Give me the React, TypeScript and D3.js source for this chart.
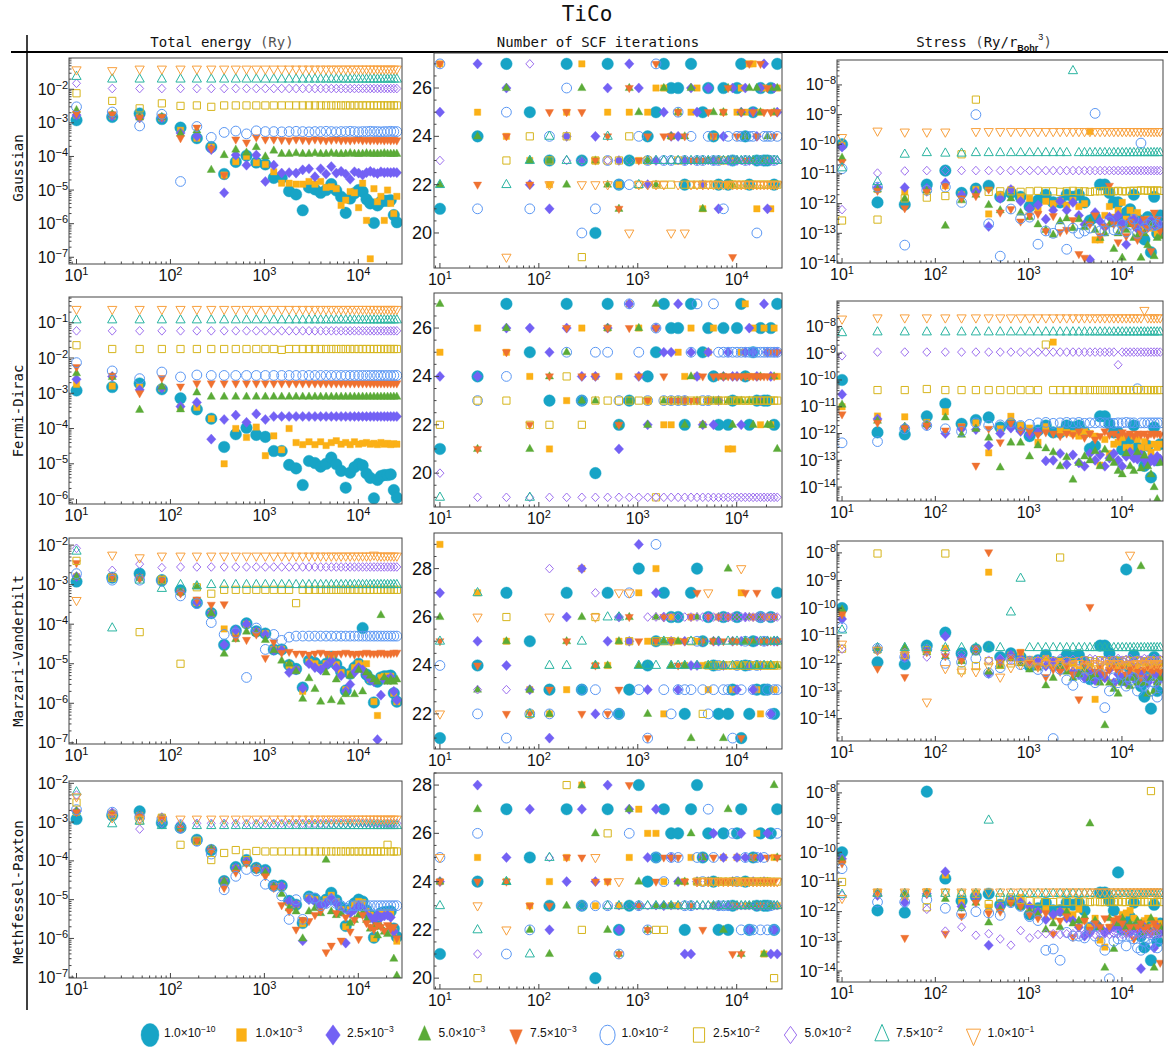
import React from "react";
import * as d3 from "d3";

type V = number | null;

// number of k-points (horizontal axis of every panel)
const kPoints = [
  10, 24, 47, 81, 128, 191, 272, 373, 496, 645,
  820, 1024, 1259, 1528, 1833, 2175, 2558, 2984, 3454, 3972,
  4538, 5156, 5828, 6556, 7342, 8188, 9097, 10071, 11112, 12222,
  13404, 14660, 15992, 17403, 18894, 20467, 22126, 23872, 25708,
];

// smearing widths (legend)
const smearMantissa = ["1.0", "1.0", "2.5", "5.0", "7.5", "1.0", "2.5", "5.0", "7.5", "1.0"];
const smearExponent = ["−10", "−3", "−3", "−3", "−3", "−2", "−2", "−2", "−2", "−1"];

const smearingNames = ["Gaussian", "Fermi-Dirac", "Marzari-Vanderbilt", "Methfessel-Paxton"];

// ---------------- total energy (Ry) ----------------
const energyGaussian: V[][] = [
  [1.2e-3, 1.5e-3, 1.9e-3, 1.3e-3, 7.2e-4, 3.5e-4, 1.9e-4, 3e-5, 6.9e-5, 1.05e-4,
    6.6e-5, 5.8e-5, 2.3e-5, 2.3e-5, 9.3e-6, 7.4e-6, 2.5e-6, 1.2e-5, 1.05e-5, 8.3e-6,
    1e-5, 1.5e-5, 9.7e-6, 6.3e-6, 2.1e-6, 5.6e-6, 8e-6, 1e-5, 9e-6, 5.3e-6,
    4e-6, 1.05e-6, 3.5e-6, 4.5e-6, 4.8e-6, 4.8e-6, 5e-6, 1.8e-6, 1.1e-6],
  [1.7e-3, 1.6e-3, 1.5e-3, 1.4e-3, 6e-4, 3.5e-4, 1.9e-4, 2.8e-5, 7e-5, 1e-4,
    6.5e-5, 5.8e-5, 3.5e-5, 1.6e-5, 1.6e-5, 1.5e-5, 1.5e-5, 1.8e-5, 1.5e-5, 1.8e-5,
    1.2e-5, 1.25e-5, 1.1e-5, 3.5e-6, 5e-6, 9e-6, 8.3e-6, 3e-6, 1.6e-5, 1.25e-6,
    9e-8, 1.1e-5, 4.5e-6, 6.5e-6, 1.25e-6, 1e-5, 4e-6, 2e-6, 6.5e-6],
  [1.7e-3, 1.6e-3, 1.4e-3, 1.4e-3, 5e-4, 4e-4, 1.6e-4, 8.3e-6, 1.1e-4, 5.5e-5,
    1.1e-4, 1.8e-5, 5.5e-5, 3.2e-5, 3.3e-5, 3.2e-5, 4e-5, 4.3e-5, 2.5e-5, 4.3e-5,
    3e-5, 5e-5, 3.2e-5, 3.6e-5, 3e-5, 2.1e-5, 3.5e-5, 3.2e-5, 2.8e-5, 3.3e-5,
    3.6e-5, 3.3e-5, 3.1e-5, 3.5e-5, 3.3e-5, 3.4e-5, 3.3e-5, 3.4e-5, 3.3e-5],
  [2.4e-3, 1.8e-3, 1.45e-3, 1.5e-3, 4.8e-4, 6e-4, 4e-5, 1.1e-4, 1.6e-4, 1.3e-4,
    1.9e-4, 1e-4, 1.5e-4, 1.2e-4, 1.2e-4, 1.25e-4, 1.2e-4, 1.2e-4, 1.25e-4, 1.2e-4,
    1.2e-4, 1.25e-4, 1.2e-4, 1.2e-4, 1.2e-4, 1.25e-4, 1.2e-4, 1.2e-4, 1.2e-4, 1.25e-4,
    1.2e-4, 1.2e-4, 1.2e-4, 1.2e-4, 1.25e-4, 1.2e-4, 1.2e-4, 1.2e-4, 1.2e-4],
  [1.9e-3, 1.8e-3, 1.4e-3, 1.5e-3, 3.5e-4, 7.2e-4, 1.7e-4, 2.8e-5, 3.2e-4, 2.6e-4,
    3.7e-4, 3.2e-4, 3.2e-4, 3.1e-4, 3e-4, 3.2e-4, 3.1e-4, 3e-4, 3.2e-4, 3.1e-4,
    3e-4, 3.1e-4, 3.2e-4, 3e-4, 3.1e-4, 3e-4, 3.1e-4, 3.2e-4, 3e-4, 3.1e-4,
    3e-4, 3.1e-4, 3e-4, 3.1e-4, 3e-4, 3.1e-4, 3e-4, 3.1e-4, 3e-4],
  [3e-3, 2.1e-3, 8.1e-4, 1.8e-3, 1.8e-5, 7.8e-4, 3.7e-4, 5.2e-4, 5.7e-4, 4.7e-4,
    5.8e-4, 5.5e-4, 5.5e-4, 5.4e-4, 5.5e-4, 5.6e-4, 5.5e-4, 5.4e-4, 5.5e-4, 5.5e-4,
    5.6e-4, 5.5e-4, 5.4e-4, 5.5e-4, 5.5e-4, 5.6e-4, 5.5e-4, 5.4e-4, 5.5e-4, 5.5e-4,
    5.6e-4, 5.5e-4, 5.5e-4, 5.4e-4, 5.5e-4, 5.5e-4, 5.6e-4, 5.5e-4, 5.5e-4],
  [7.6e-3, 4.5e-3, 2.7e-3, 3.8e-3, 3.2e-3, 3.3e-3, 3e-3, 3.3e-3, 3.3e-3, 3.3e-3,
    3.3e-3, 3.3e-3, 3.3e-3, 3.3e-3, 3.3e-3, 3.3e-3, 3.3e-3, 3.3e-3, 3.3e-3, 3.3e-3,
    3.3e-3, 3.3e-3, 3.3e-3, 3.3e-3, 3.3e-3, 3.3e-3, 3.3e-3, 3.3e-3, 3.3e-3, 3.3e-3,
    3.3e-3, 3.3e-3, 3.3e-3, 3.3e-3, 3.3e-3, 3.3e-3, 3.3e-3, 3.3e-3, 3.3e-3],
  [1.5e-2, 1.05e-2, 1.05e-2, 1.05e-2, 1.05e-2, 1.05e-2, 1.05e-2, 1.05e-2, 1.05e-2, 1.05e-2,
    1.05e-2, 1.05e-2, 1.05e-2, 1.05e-2, 1.05e-2, 1.05e-2, 1.05e-2, 1.05e-2, 1.05e-2, 1.05e-2,
    1.05e-2, 1.05e-2, 1.05e-2, 1.05e-2, 1.05e-2, 1.05e-2, 1.05e-2, 1.05e-2, 1.05e-2, 1.05e-2,
    1.05e-2, 1.05e-2, 1.05e-2, 1.05e-2, 1.05e-2, 1.05e-2, 1.05e-2, 1.05e-2, 1.05e-2],
  [2.4e-2, 2e-2, 2e-2, 2e-2, 2e-2, 2e-2, 2e-2, 2e-2, 2e-2, 2e-2,
    2e-2, 2e-2, 2e-2, 2e-2, 2e-2, 2e-2, 2e-2, 2e-2, 2e-2, 2e-2,
    2e-2, 2e-2, 2e-2, 2e-2, 2e-2, 2e-2, 2e-2, 2e-2, 2e-2, 2e-2,
    2e-2, 2e-2, 2e-2, 2e-2, 2e-2, 2e-2, 2e-2, 2e-2, 2e-2],
  [3.8e-2, 3.6e-2, 4e-2, 4e-2, 4e-2, 4e-2, 4e-2, 4e-2, 4e-2, 4e-2,
    4e-2, 4e-2, 4e-2, 4e-2, 4e-2, 4e-2, 4e-2, 4e-2, 4e-2, 4e-2,
    4e-2, 4e-2, 4e-2, 4e-2, 4e-2, 4e-2, 4e-2, 4e-2, 4e-2, 4e-2,
    4e-2, 4e-2, 4e-2, 4e-2, 4e-2, 4e-2, 4e-2, 4e-2, 4e-2],
];

const energyFermi: V[][] = [
  [1.2e-3, 1.5e-3, 1.9e-3, 1.3e-3, 7.2e-4, 3.5e-4, 1.9e-4, 3e-5, 6.9e-5, 1.05e-4,
    6.6e-5, 5.8e-5, 2.3e-5, 2.3e-5, 9.3e-6, 7.4e-6, 2.5e-6, 1.2e-5, 1.05e-5, 8.3e-6,
    1e-5, 1.5e-5, 9.7e-6, 6.3e-6, 2.1e-6, 5.6e-6, 8e-6, 1e-5, 9e-6, 5.3e-6,
    4e-6, 1.05e-6, 3.5e-6, 4.5e-6, 4.8e-6, 4.8e-6, 5e-6, 1.8e-6, 1.1e-6],
  [1.8e-3, 1.6e-3, 1.5e-3, 1.4e-3, 4e-4, 4e-4, 1.9e-4, 1e-5, 1e-4, 5.6e-5,
    1.1e-4, 1.7e-5, 6.2e-5, 2.5e-5, 1e-4, 4e-5, 3.5e-5, 4.2e-5, 3.5e-5, 4.2e-5,
    3.3e-5, 4e-5, 4.5e-5, 3.6e-5, 4e-5, 3.5e-5, 4.2e-5, 3.6e-5, 3.8e-5, 4e-5,
    3.6e-5, 3.8e-5, 3.5e-5, 4e-5, 3.6e-5, 3.8e-5, 3.5e-5, 3.7e-5, 3.6e-5],
  [2.5e-3, 3e-3, 1.25e-3, 1.4e-3, 4.2e-4, 5.5e-4, 5e-5, 1.8e-4, 2.4e-4, 1.5e-4,
    2.6e-4, 1.8e-4, 2.2e-4, 2.2e-4, 2.2e-4, 2.2e-4, 2.2e-4, 2.2e-4, 2.2e-4, 2.2e-4,
    2.2e-4, 2.2e-4, 2.2e-4, 2.2e-4, 2.2e-4, 2.2e-4, 2.2e-4, 2.2e-4, 2.2e-4, 2.2e-4,
    2.2e-4, 2.2e-4, 2.2e-4, 2.2e-4, 2.2e-4, 2.2e-4, 2.2e-4, 2.2e-4, 2.2e-4],
  [3.7e-3, 2.9e-3, 3.4e-4, 1.55e-3, 3.5e-4, 1.05e-3, 8e-4, 8e-4, 8e-4, 8e-4,
    8e-4, 8e-4, 8e-4, 8e-4, 8e-4, 8e-4, 8e-4, 8e-4, 8e-4, 8e-4,
    8e-4, 8e-4, 8e-4, 8e-4, 8e-4, 8e-4, 8e-4, 8e-4, 8e-4, 8e-4,
    8e-4, 8e-4, 8e-4, 8e-4, 8e-4, 8e-4, 8e-4, 8e-4, 8e-4],
  [5.5e-3, 3.1e-3, 1e-3, 2.7e-3, 1.55e-3, 1.9e-3, 1.9e-3, 1.9e-3, 1.9e-3, 1.9e-3,
    1.9e-3, 1.9e-3, 1.9e-3, 1.9e-3, 1.9e-3, 1.9e-3, 1.9e-3, 1.9e-3, 1.9e-3, 1.9e-3,
    1.9e-3, 1.9e-3, 1.9e-3, 1.9e-3, 1.9e-3, 1.9e-3, 1.9e-3, 1.9e-3, 1.9e-3, 1.9e-3,
    1.9e-3, 1.9e-3, 1.9e-3, 1.9e-3, 1.9e-3, 1.9e-3, 1.9e-3, 1.9e-3, 1.9e-3],
  [7.4e-3, 4.3e-3, 2.6e-3, 4e-3, 2.9e-3, 3.3e-3, 3.2e-3, 3.2e-3, 3.2e-3, 3.2e-3,
    3.2e-3, 3.2e-3, 3.2e-3, 3.2e-3, 3.2e-3, 3.2e-3, 3.2e-3, 3.2e-3, 3.2e-3, 3.2e-3,
    3.2e-3, 3.2e-3, 3.2e-3, 3.2e-3, 3.2e-3, 3.2e-3, 3.2e-3, 3.2e-3, 3.2e-3, 3.2e-3,
    3.2e-3, 3.2e-3, 3.2e-3, 3.2e-3, 3.2e-3, 3.2e-3, 3.2e-3, 3.2e-3, 3.2e-3],
  [2.3e-2, 1.8e-2, 1.8e-2, 1.8e-2, 1.8e-2, 1.8e-2, 1.8e-2, 1.8e-2, 1.8e-2, 1.8e-2,
    1.8e-2, 1.8e-2, 1.8e-2, 1.7e-2, 1.8e-2, 1.8e-2, 1.8e-2, 1.8e-2, 1.8e-2, 1.8e-2,
    1.8e-2, 1.8e-2, 1.8e-2, 1.8e-2, 1.8e-2, 1.8e-2, 1.8e-2, 1.8e-2, 1.8e-2, 1.8e-2,
    1.8e-2, 1.8e-2, 1.8e-2, 1.8e-2, 1.8e-2, 1.8e-2, 1.8e-2, 1.8e-2, 1.8e-2],
  [5.9e-2, 5.9e-2, 5.9e-2, 5.9e-2, 5.9e-2, 5.9e-2, 5.9e-2, 5.9e-2, 5.9e-2, 5.9e-2,
    5.9e-2, 5.9e-2, 5.9e-2, 5.9e-2, 5.9e-2, 5.9e-2, 5.9e-2, 5.9e-2, 5.9e-2, 5.9e-2,
    5.9e-2, 5.9e-2, 5.9e-2, 5.9e-2, 5.9e-2, 5.9e-2, 5.9e-2, 5.9e-2, 5.9e-2, 5.9e-2,
    5.9e-2, 5.9e-2, 5.9e-2, 5.9e-2, 5.9e-2, 5.9e-2, 5.9e-2, 5.9e-2, 5.9e-2],
  [1.2e-1, 1.2e-1, 1.2e-1, 1.2e-1, 1.2e-1, 1.2e-1, 1.2e-1, 1.2e-1, 1.2e-1, 1.2e-1,
    1.2e-1, 1.2e-1, 1.2e-1, 1.2e-1, 1.2e-1, 1.2e-1, 1.2e-1, 1.2e-1, 1.2e-1, 1.2e-1,
    1.2e-1, 1.2e-1, 1.2e-1, 1.2e-1, 1.2e-1, 1.2e-1, 1.2e-1, 1.2e-1, 1.2e-1, 1.2e-1,
    1.2e-1, 1.2e-1, 1.2e-1, 1.2e-1, 1.2e-1, 1.2e-1, 1.2e-1, 1.2e-1, 1.2e-1],
  [2.4e-1, 2.4e-1, 2.4e-1, 2.4e-1, 2.4e-1, 2.4e-1, 2.4e-1, 2.4e-1, 2.4e-1, 2.4e-1,
    2.4e-1, 2.4e-1, 2.4e-1, 2.4e-1, 2.4e-1, 2.4e-1, 2.4e-1, 2.4e-1, 2.4e-1, 2.4e-1,
    2.4e-1, 2.4e-1, 2.4e-1, 2.4e-1, 2.4e-1, 2.4e-1, 2.4e-1, 2.4e-1, 2.4e-1, 2.4e-1,
    2.4e-1, 2.4e-1, 2.4e-1, 2.4e-1, 2.4e-1, 2.4e-1, 2.4e-1, 2.4e-1, 2.4e-1],
];

const energyMarzari: V[][] = [
  [1.2e-3, 1.5e-3, 1.9e-3, 1.3e-3, 7.2e-4, 3.5e-4, 1.9e-4, 3e-5, 6.9e-5, 1.05e-4,
    6.6e-5, 5.8e-5, 2.3e-5, 2.3e-5, 9.3e-6, 7.4e-6, 2.5e-6, 1.2e-5, 1.05e-5, 8.3e-6,
    1e-5, 1.5e-5, 9.7e-6, 6.3e-6, 2.1e-6, 5.6e-6, 8e-6, 1e-5, 8e-5, 5.3e-6,
    4e-6, 1.05e-6, 3.5e-6, 4.5e-6, 4.8e-6, 4.8e-6, 5e-6, 1.8e-6, 1.1e-6],
  [1.6e-3, 1.5e-3, 1.5e-3, 1.4e-3, 6.5e-4, 3.5e-4, 1.9e-4, 7.6e-5, 6.5e-5, 1e-4,
    6.5e-5, 5.8e-5, 2.3e-5, 2.3e-5, 9e-6, 7e-6, 2e-6, 1.1e-5, 1e-5, 8e-6,
    1e-5, 1.4e-5, 9.5e-6, 6e-6, 2.2e-6, 5.5e-6, 8e-6, 1e-5, 9e-6, 1e-5,
    4e-6, 1.1e-6, 4.9e-7, 4.5e-6, 4.8e-6, 4.8e-6, 4.8e-6, 1.8e-6, 1.1e-6],
  [1.6e-3, 1.5e-3, 1.5e-3, 1.3e-3, 6.5e-4, 3.6e-4, 1.9e-4, 3e-5, 7e-5, 1e-4,
    6.5e-5, 5.5e-5, 2.2e-5, 2.2e-5, 6e-6, 7e-6, 2.4e-6, 1e-5, 8e-6, 7e-6,
    9e-6, 1.2e-5, 8e-6, 5e-6, 2e-6, 3e-6, 6e-6, 8e-6, 7e-6, 5e-6,
    4e-6, 3.5e-6, 1.2e-7, 1.6e-6, 4e-6, 4e-6, 4.5e-6, 2e-6, 1.2e-6],
  [1.6e-3, 1.5e-3, 1.5e-3, 1.3e-3, 6.5e-4, 9e-4, 1.9e-4, 1.8e-5, 4.2e-5, 6.5e-5,
    6e-5, 4e-5, 2.2e-5, 1.2e-5, 1e-5, 6.5e-6, 1.3e-6, 4.3e-6, 2.3e-6, 1.1e-6,
    6e-6, 1.2e-6, 4e-6, 1.1e-6, 1.7e-6, 5e-6, 1.7e-6, 7e-6, 2e-6, 6e-6,
    5e-6, 4e-6, 3.5e-6, 1.7e-4, 4.5e-6, 3.5e-6, 4e-6, 3.5e-6, 4e-6],
  [3.5e-3, 1.6e-3, 1.4e-3, 1.3e-3, 6e-4, 4.2e-4, 3.1e-4, 3.2e-4, 4.5e-5, 4e-5,
    5.5e-5, 1.4e-5, 3.5e-5, 1.9e-5, 2e-5, 1.8e-5, 1.8e-5, 1.7e-5, 1.8e-5, 1.9e-5,
    1.8e-5, 1.7e-5, 1.8e-5, 1.8e-5, 1.9e-5, 1.8e-5, 1.7e-5, 1.8e-5, 1.8e-5, 1.9e-5,
    1.8e-5, 1.8e-5, 1.8e-5, 1.9e-5, 1.8e-5, 1.8e-5, 1.8e-5, 1.9e-5, 1.9e-5],
  [1.9e-3, 1.3e-3, 1.3e-3, 1.2e-3, 5.2e-4, 3.3e-4, 1.1e-4, 5.5e-5, 6e-5, 4.5e-6,
    8e-5, 2.3e-5, 5.5e-5, 3.9e-5, 4.7e-5, 5e-5, 5e-5, 5e-5, 5e-5, 5e-5,
    5e-5, 5e-5, 5e-5, 5e-5, 5e-5, 5e-5, 5e-5, 5e-5, 5e-5, 5e-5,
    5e-5, 5e-5, 5e-5, 5e-5, 5e-5, 5e-5, 5e-5, 5e-5, 5e-5],
  [4e-3, 1.5e-3, 6.3e-5, 1.3e-3, 1e-5, 8.6e-4, 5.9e-4, 7.4e-4, 7.4e-4, 7.4e-4,
    7.4e-4, 7.4e-4, 7.4e-4, 7.4e-4, 7.4e-4, 3.4e-4, 7.4e-4, 7.4e-4, 7.4e-4, 7.4e-4,
    7.4e-4, 7.4e-4, 7.4e-4, 7.4e-4, 7.4e-4, 7.4e-4, 7.4e-4, 7.4e-4, 7.4e-4, 7.4e-4,
    7.4e-4, 7.4e-4, 7.4e-4, 7.4e-4, 7.4e-4, 7.4e-4, 7.4e-4, 7.4e-4, 7.4e-4],
  [8.3e-3, 2.3e-3, 3.3e-3, 2.7e-3, 2.8e-3, 2.8e-3, 2.8e-3, 2.8e-3, 2.8e-3, 2.8e-3,
    2.8e-3, 2.8e-3, 2.8e-3, 2.8e-3, 2.8e-3, 2.8e-3, 2.8e-3, 2.8e-3, 2.8e-3, 2.8e-3,
    2.8e-3, 2.8e-3, 2.8e-3, 2.8e-3, 2.8e-3, 2.8e-3, 2.8e-3, 2.8e-3, 2.8e-3, 2.8e-3,
    2.8e-3, 2.8e-3, 2.8e-3, 2.8e-3, 2.8e-3, 2.8e-3, 2.8e-3, 2.8e-3, 2.8e-3],
  [7e-3, 8e-5, 1.3e-3, 8e-4, 1e-3, 9.3e-4, 1e-3, 1e-3, 1e-3, 1e-3,
    1e-3, 1e-3, 1e-3, 1e-3, 1e-3, 1e-3, 1e-3, 1e-3, 1e-3, 1e-3,
    1e-3, 1e-3, 1e-3, 1e-3, 1e-3, 1e-3, 1e-3, 1e-3, 1e-3, 1e-3,
    1e-3, 1e-3, 1e-3, 1e-3, 1e-3, 1e-3, 1e-3, 1e-3, 1e-3],
  [4e-4, 5.6e-3, 4.8e-3, 5.3e-3, 5.3e-3, 5.3e-3, 5.3e-3, 5.3e-3, 5.3e-3, 5.3e-3,
    5.3e-3, 5.3e-3, 5.3e-3, 5.3e-3, 5.3e-3, 5.3e-3, 5.3e-3, 5.3e-3, 5.3e-3, 5.3e-3,
    5.3e-3, 5.3e-3, 5.3e-3, 5.3e-3, 5.3e-3, 5.3e-3, 5.3e-3, 5.3e-3, 5.3e-3, 5.3e-3,
    5.3e-3, 5.6e-3, 5.3e-3, 5.3e-3, 5.3e-3, 5.3e-3, 5.3e-3, 5.3e-3, 5.3e-3],
];

const energyMethfessel: V[][] = [
  [1.2e-3, 1.5e-3, 1.9e-3, 9.5e-4, 7.2e-4, 3.5e-4, 1.9e-4, 3e-5, 6.9e-5, 1.05e-4,
    6.6e-5, 5.8e-5, 2.3e-5, 2.3e-5, 9.3e-6, 7.4e-6, 2.5e-6, 1.2e-5, 1.05e-5, 8.3e-6,
    1e-5, 1.5e-5, 9.7e-6, 6.3e-6, 2.1e-6, 5.6e-6, 8e-6, 1e-5, 9e-6, 5.3e-6,
    4e-6, 1.05e-6, 3.5e-6, 4.5e-6, 4.8e-6, 4.8e-6, 5e-6, 1.8e-6, 1.1e-6],
  [1.8e-3, 1.7e-3, 1.5e-3, 1.3e-3, 7e-4, 3.4e-4, 2e-4, 3e-5, 6.5e-5, 1e-4,
    6.5e-5, 5.5e-5, 2.2e-5, 2.2e-5, 8.5e-6, 7.5e-6, 2.4e-6, 1.1e-5, 1e-5, 8e-6,
    1e-5, 1.3e-5, 9e-6, 5.5e-6, 2e-6, 5.5e-6, 7.5e-6, 9e-6, 8.5e-6, 5e-6,
    4e-6, 1e-6, 3.5e-6, 4.5e-6, 4.5e-6, 4.5e-6, 4.5e-6, 1.5e-6, 8.5e-7],
  [1.9e-3, 1.7e-3, 1.5e-3, 1.3e-3, 7e-4, 3.3e-4, 2e-4, 3e-5, 6.5e-5, 1e-4,
    6.5e-5, 5.5e-5, 2.2e-5, 2.2e-5, 9e-6, 7.5e-6, 8.7e-7, 1e-5, 9e-6, 7e-6,
    8e-6, 1.1e-5, 8e-6, 5e-6, 7.6e-7, 4.5e-6, 5.5e-6, 7e-6, 6e-6, 4e-6,
    3.5e-6, 3e-6, 4e-6, 3.5e-6, 3.8e-6, 4e-6, 3.5e-6, 1.5e-6, 8.7e-8],
  [1.9e-3, 1.6e-3, 1.5e-3, 1.2e-3, 7e-4, 3.3e-4, 2e-4, 3e-5, 6e-5, 8.5e-5,
    6.5e-5, 5e-5, 2.2e-5, 1.4e-5, 6e-6, 5e-6, 1e-6, 5e-6, 6e-6, 4.5e-6,
    1.07e-4, 5e-6, 4e-6, 4.5e-6, 6.5e-8, 2.5e-6, 3e-6, 4e-6, 4.5e-6, 3e-6,
    1.8e-6, 2e-6, 1.2e-6, 2e-6, 1.5e-6, 1.3e-6, 2e-6, 3e-7, 1.1e-7],
  [1.8e-3, 1.6e-3, 1.4e-3, 1.2e-3, 7e-4, 3.3e-4, 1.8e-4, 2e-5, 5e-5, 8.5e-5,
    6e-5, 4e-5, 2e-5, 7.2e-6, 5e-6, 1.7e-6, 3e-6, 2.8e-6, 4e-6, 5e-6,
    4.4e-7, 6.5e-7, 4.5e-6, 8.8e-7, 3.5e-6, 1.5e-6, 3e-6, 9.6e-7, 4e-6, 2.5e-6,
    2e-6, 1.7e-6, 2.2e-6, 2e-6, 1.6e-6, 2.2e-6, 1.8e-6, 2e-6, 1e-6],
  [2.1e-3, 1.8e-3, 1.3e-3, 1.2e-3, 7e-4, 3.2e-4, 1.5e-4, 1.8e-5, 4e-5, 6e-5,
    5.5e-5, 2.5e-5, 2.2e-5, 1.25e-5, 3.1e-6, 1e-5, 3.1e-6, 1.1e-5, 1.1e-5, 7e-6,
    8e-6, 1e-5, 8e-6, 7e-6, 6e-6, 7e-6, 7e-6, 7e-6, 7e-6, 7e-6,
    7e-6, 7e-6, 7e-6, 7e-6, 7e-6, 7e-6, 7e-6, 7e-6, 7e-6],
  [3.2e-3, 1.55e-3, 1.1e-3, 1.3e-3, 2.6e-4, 3.3e-4, 1.05e-4, 1.6e-4, 1.9e-4, 1.6e-4,
    1.8e-4, 1.75e-4, 1.75e-4, 1.75e-4, 1.75e-4, 1.75e-4, 1.75e-4, 1.75e-4, 1.75e-4, 1.75e-4,
    1.75e-4, 1.75e-4, 1.75e-4, 1.75e-4, 1.75e-4, 1.75e-4, 1.75e-4, 1.75e-4, 1.75e-4, 1.75e-4,
    1.75e-4, 1.75e-4, 1.75e-4, 1.75e-4, 1.75e-4, 2.6e-4, 1.75e-4, 1.75e-4, 1.75e-4],
  [5e-3, 1.8e-3, 6.6e-4, 9.3e-4, 9.3e-4, 9.3e-4, 9.3e-4, 9.3e-4, 9.3e-4, 9.3e-4,
    9.3e-4, 9.3e-4, 9.3e-4, 9.3e-4, 9.3e-4, 9.3e-4, 9.3e-4, 9.3e-4, 9.3e-4, 9.3e-4,
    9.3e-4, 9.3e-4, 9.3e-4, 9.3e-4, 9.3e-4, 9.3e-4, 9.3e-4, 9.3e-4, 9.3e-4, 9.3e-4,
    9.3e-4, 9.3e-4, 9.3e-4, 9.3e-4, 9.3e-4, 9.3e-4, 9.3e-4, 9.3e-4, 9.3e-4],
  [6e-3, 9e-4, 1.05e-3, 8.1e-4, 8.1e-4, 8.1e-4, 8.1e-4, 8.1e-4, 8.1e-4, 8.1e-4,
    8.1e-4, 8.1e-4, 8.1e-4, 8.1e-4, 8.1e-4, 8.1e-4, 8.1e-4, 8.1e-4, 8.1e-4, 8.1e-4,
    8.1e-4, 8.1e-4, 8.1e-4, 8.1e-4, 8.1e-4, 8.1e-4, 8.1e-4, 8.1e-4, 8.1e-4, 8.1e-4,
    8.1e-4, 8.1e-4, 8.1e-4, 8.1e-4, 8.1e-4, 8.1e-4, 8.1e-4, 8.1e-4, 8.1e-4],
  [4.5e-3, 1.3e-3, 1.2e-3, 1.2e-3, 1.2e-3, 1.2e-3, 1.2e-3, 1.2e-3, 1.2e-3, 1.2e-3,
    1.2e-3, 1.2e-3, 1.2e-3, 1.2e-3, 1.2e-3, 1.2e-3, 1.2e-3, 1.2e-3, 1.2e-3, 1.2e-3,
    1.2e-3, 1.2e-3, 1.2e-3, 1.2e-3, 1.2e-3, 1.2e-3, 1.2e-3, 1.2e-3, 1.2e-3, 1.2e-3,
    1.2e-3, 1.2e-3, 1.2e-3, 1.2e-3, 1.2e-3, 1.2e-3, 1.2e-3, 1.2e-3, 1.2e-3],
];

// ---------------- number of SCF iterations ----------------
const scfGaussian: V[][] = [
  [21, 24, 27, 25, 23, 27, 23, 20, 27, 22, 23, 28, 24, 25, 27, 26, 26, 22, 27, 28,
    25, 26, 24, 22, 26, 22, 23, 26, 27, 24, 22, 25, 23, 26, 23, 23, 26, 22, 27],
  [27, 25, 24, 23, 22, 25, 27, 23, 25, 22, 25, 23, 25, 26, 26, 24, 25, 23, 25, 26,
    21, 23, 24, 23, 25, 22, 23, 25, 26, 25, 27, 27, 21, 25, 26, 23, 21, 25, 26],
  [25, 27, 26, 22, 21, 24, 23, 24, 26, 23, 27, 26, 22, 23, 25, 24, 24, 23, 26, 25,
    22, 26, 23, 21, 24, 23, 26, 23, 25, 26, 23, 25, 24, 26, 27, 21, 23, 26, 25],
  [22, 24, 26, 23, 23, 22, 26, 23, 22, 21, 26, 25, 23, 22, 26, 24, 25, 24, 26, 23,
    21, 23, 25, 23, 25, 26, 22, 23, 25, 24, 26, 23, 26, 25, 23, 24, 26, 25, 26],
  [27, 22, 24, 22, 25, 25, 25, 23, 24, 21, 26, 23, 24, 27, 24, 24, 25, 24, 23, 23,
    23, 25, 24, 23, 25, 26, 19, 24, 25, 23, 27, 25, 24, 27, 25, 26, 25, 24, 25],
  [27, 21, 25, 21, 24, 26, 20, 21, 23, 22, 22, 24, 23, 27, 23, 23, 25, 23, 24, 23,
    23, 24, 23, 23, 21, 24, 23, 24, 24, 23, 24, 24, 20, 23, 24, 24, 24, 23, 24],
  [null, null, 23, 24, 23, 24, 19, 23, 23, 23, 24, 22, 23, 22, 22, 22, 23, 22, 22, 22,
    22, 22, 22, 22, 23, 22, 22, 22, 22, 22, 22, 22, 22, 22, 22, 22, 22, 22, 22],
  [23, null, null, 27, null, 23, 23, null, 23, null, 23, null, 23, 23, 23, 23, 23, 23, 23, 23,
    23, 23, 23, 23, 23, 23, 23, 23, 23, 23, 23, 23, 23, 23, 23, 23, 23, 23, 23],
  [22, null, 22, 23, 24, 23, 23, null, 24, null, 23, 22, 23, 23, 23, 23, 23, 23, 23, 23,
    23, 23, 23, 23, 23, 23, 23, 23, 23, 23, 23, 23, 23, 23, 23, 23, 23, 23, 23],
  [null, null, 19, null, 22, null, 22, 22, 22, null, 20, 22, 22, 22, 22, 20, 22, 20, 22, 22,
    22, 22, 22, 22, 22, 22, 22, 22, 22, 22, 22, 22, 22, 22, 22, 22, 22, 22, 22],
];

const scfFermi: V[][] = [
  [21, 24, 27, 25, 23, 27, 23, 20, 27, 22, 23, 28, 24, 25, 27, 26, 26, 22, 27, 28,
    25, 26, 24, 22, 26, 22, 23, 26, 27, 24, 22, 25, 23, 26, 23, 23, 26, 22, 27],
  [25, 26, 25, 24, 21, 23, 26, 24, 26, 24, 27, 26, 23, 26, 22, 22, 25, 24, 26, 24,
    22, 25, 26, 23, 24, 21, 21, 23, 25, 27, 24, 26, 24, 22, 26, 25, 22, 26, 24],
  [24, 24, 26, 26, 25, 26, 24, 24, 26, 21, 27, 24, 22, 26, 25, 25, 27, 23, 25, 24,
    22, 25, 22, 23, 24, 25, 24, 24, 22, 25, 26, 25, 24, 23, 27, 25, 24, 25, 25],
  [27, 21, 26, 21, 24, 25, 23, 23, 26, 22, 23, 26, 22, 27, 23, 23, 23, 22, 24, 23,
    22, 23, 23, 23, 24, 23, 22, 23, 23, 24, 23, 22, 23, 24, 23, 22, 22, 24, 21],
  [null, 21, 25, 22, 24, 26, 24, 24, 26, 22, 26, 24, 23, 26, 24, 23, 23, 23, 23, 23,
    24, 23, 24, 24, 24, 24, 24, 24, 24, 24, 24, 24, 24, 24, 24, 24, 25, 24, 25],
  [null, 23, 24, null, null, 25, 23, 25, 25, 23, 27, 25, 23, 26, 23, 23, 23, 23, 25, 27,
    23, 23, 27, 25, 25, 25, 25, 25, 25, 25, 25, 25, 25, 25, 25, 25, 25, 25, 25],
  [22, 23, 23, 22, 22, 24, 22, 23, 23, 23, 23, 23, 23, 19, 23, 23, 23, 23, 23, 23,
    23, 23, 23, 23, 23, 23, 23, 23, 23, 23, 23, 23, 23, 23, 23, 23, 23, 23, 23],
  [20, 19, 19, 19, 19, 19, 19, 19, 19, 19, 19, 19, 19, 19, 19, 19, 19, 19, 19, 19,
    19, 19, 19, 19, 19, 19, 19, 19, 19, 19, 19, 19, 19, 19, 19, 19, 19, 19, 19],
  [19, null, null, 19, null, null, null, null, null, null, null, null, null, null, null, null, null, null, null, null,
    null, null, null, null, null, null, null, null, null, null, null, null, null, null, null, null, null, null, null],
  [],
];

const scfMarzari: V[][] = [
  [21, 24, 27, 25, 23, 27, 23, 20, 27, 22, 23, 28, 24, 25, 27, 26, 26, 22, 27, 28,
    25, 26, 24, 22, 26, 22, 23, 26, 21, 24, 22, 25, 23, 26, 23, 23, 26, 22, 27],
  [29, 27, 25, 23, 22, 23, 28, 24, 24, 25, 25, 27, 25, 28, 22, 26, 25, 24, 26, 25,
    24, 23, 25, 26, 24, 26, 23, 24, 27, 25, 24, 26, 23, 22, 25, 26, 24, 23, 25],
  [27, 25, 24, 23, 21, 26, 28, 22, 25, 26, 25, 29, 23, 27, 26, 25, 23, 25, 24, 24,
    25, 26, 25, 25, 24, 26, 25, 23, 25, 26, 24, 23, 25, 24, 25, 25, 22, 25, 25],
  [26, 23, 25, 23, 22, 25, 26, 24, 24, 25, 26, 24, 22, 26, 25, 24, 25, 24, 21, 26,
    25, 24, 25, 26, 21, 28, 25, 26, 24, 25, 26, 25, 24, 26, 25, 24, 25, 26, 24],
  [25, 24, 22, 22, 23, 25, 22, 24, 22, 23, 26, 25, 21, 25, 26, 25, 24, 25, 26, 27,
    25, 26, 25, 26, 25, 26, 25, 25, 21, 27, 25, 26, 27, 25, 26, 25, 25, 26, 25],
  [24, 22, 21, 22, 22, null, 23, 23, 22, 22, 27, 23, 21, 29, 23, 22, 23, 23, 23, 25,
    23, 22, 23, 24, 23, 23, 21, 24, 23, 25, 24, 23, 24, 26, 25, 23, 22, 23, 23],
  [null, null, 26, 22, null, null, null, 26, null, null, 25, null, null, 25, 25, 25, null, null, 25, null,
    22, 24, 24, 24, 24, 24, 24, 24, 24, 24, 24, 24, 24, 24, 24, 24, 24, 24, 24],
  [null, 23, 23, null, 28, null, null, 27, null, 26, null, null, 26, 26, 26, 26, 26, 26, 26, 26,
    26, 26, 26, 26, 26, 26, 26, 26, 26, 26, 26, 26, 26, 26, 26, 26, 26, 26, 26],
  [25, 27, null, 22, 24, 24, 25, 24, 26, 26, null, 24, 24, 24, 25, 24, 24, 24, 25, 24,
    25, 24, 24, 25, 24, 25, 24, 25, 24, 25, 24, 25, 24, 25, 24, 25, 24, 25, 25],
  [22, 26, null, null, 26, null, null, 26, null, 27, 27, null, null, null, null, null, null, null, null, null,
    null, 27, null, null, null, null, null, null, 28, null, null, null, null, null, null, null, null, null, null],
];

const scfMethfessel: V[][] = [
  [21, 24, 27, 25, 23, 27, 23, 20, 27, 22, 23, 28, 24, 25, 27, 26, 26, 22, 27, 28,
    25, 26, 24, 22, 26, 22, 23, 26, 27, 24, 22, 25, 23, 26, 23, 23, 26, 22, 27],
  [24, 25, 24, 23, 24, 25, 28, 23, 24, 23, 25, 27, 26, 26, 24, 23, 23, 24, 25, 24,
    25, 24, 23, 24, 25, 24, 23, 25, 24, 23, 24, 25, 26, 23, 21, 24, 23, 25, 23],
  [24, 28, 25, 27, 22, 24, 27, 24, 28, 22, 27, 23, 25, 27, 23, 25, 24, 21, 21, 24,
    25, 24, 26, 23, 25, 23, 24, 25, 26, 25, 22, 24, 23, 25, 24, 26, 21, 22, 21],
  [24, 27, 24, 22, 21, 23, 28, 26, 22, 21, 27, 24, 22, 23, 23, 23, 24, 24, 26, 24,
    25, 24, 23, 24, 22, 27, 24, 23, 21, 24, 23, 25, 23, 24, 21, 24, 23, 28, 25],
  [24, 24, 24, 23, 23, 25, 25, 24, 24, 21, 28, 23, 22, 24, 25, 25, 25, 24, 23, 24,
    22, 24, 25, 24, 24, 24, 21, 23, 21, 24, 24, 25, 24, 23, 24, 25, 24, 24, 25],
  [25, 26, 21, 22, null, null, 23, 23, 23, 21, 26, 23, 22, 25, 24, 25, 25, 23, 23, 25,
    24, 27, 25, 23, 23, 23, 26, 24, 22, 25, 22, 22, 25, 22, 25, 22, 23, 22, 26],
  [null, 20, null, null, null, 28, 22, null, 26, null, null, null, null, 22, 22, null, null, null, null, 24,
    24, 24, 24, 24, 24, 24, 24, 24, 24, 24, 24, 24, 24, 24, 24, 24, 24, 20, 24],
  [null, 21, null, null, 25, null, 23, null, 23, 23, 23, 23, 23, 23, 23, 23, 23, 23, 23, 23,
    23, 23, 23, 23, 23, 23, 23, 23, 23, 23, 23, 23, 23, 23, 23, 23, 23, 23, 23],
  [23, 22, 24, 21, 25, null, 23, null, 23, 23, 23, 23, 23, 23, 23, 23, 23, 23, 23, 23,
    23, 23, 23, 23, 23, 23, 23, 23, 23, 23, 23, 23, 23, 23, 23, 23, 23, 23, 23],
  [25, 23, 22, null, null, null, null, 25, null, 24, null, null, null, null, null, null, null, null, null, 24,
    24, 24, 24, 24, 24, 24, 24, 24, 24, 24, 24, 24, 24, 24, 24, 24, 24, 24, 24],
];

// ---------------- stress (Ry / r_Bohr^3) ----------------
const stressGaussian: V[][] = [
  [1e-10, 1.1e-12, 9.3e-13, 4.4e-12, 1.3e-11, 2.3e-12, 3.2e-12, 4e-12, 1.7e-12, 2.3e-12,
    1.7e-12, 8e-13, 1.3e-12, 2e-12, 1.1e-12, 1.1e-12, 2e-12, 1.7e-12, 2e-12, 1.1e-12,
    2.7e-13, 3.5e-13, 4.4e-12, 4.4e-12, 2.3e-12, 1.1e-12, 1.1e-12, 2.5e-13, 5e-13, 6.5e-13,
    2e-12, 3e-13, 1.5e-13, 6.2e-14, 3.5e-13, 2.3e-14, 1.7e-12, 1e-13, 4e-13],
  [9e-11, 3e-12, 2.5e-12, 3e-12, 4e-12, 2e-12, 3e-12, 4.5e-13, 2e-12, 3e-12,
    1.7e-12, 1.5e-12, 6e-13, 1.2e-12, 1e-12, 1.2e-12, 9e-13, 1.3e-12, 8e-13, 1e-12,
    2.7e-10, 6e-14, 6e-14, 4e-13, 8e-13, 3.5e-13, 6e-13, 1.1e-12, 3e-13, 6e-13,
    4e-13, 5e-13, 2e-13, 1.5e-13, 3e-13, 1.5e-13, 2.5e-13, 1e-13, 1.5e-13],
  [8e-11, 3.5e-12, 3.5e-12, 3.3e-12, 5e-12, 2e-12, 2.5e-12, 1.7e-13, 1.5e-12, 3e-12,
    1.2e-12, 7e-13, 9e-13, 3e-13, 6e-13, 1.2e-12, 6e-13, 1.1e-12, 4e-13, 2e-13,
    1.3e-14, 5e-13, 2.5e-13, 1.6e-13, 3.5e-13, 2.6e-13, 4e-13, 2.2e-13, 4.2e-14, 2.6e-13,
    3e-13, 1.4e-13, 2.5e-13, 2.2e-13, 1.6e-13, 2.8e-13, 1.9e-13, 2.5e-13, 1.9e-13],
  [3.5e-11, 3e-12, 1.5e-12, 2.8e-12, 1.8e-13, 1.3e-12, 2e-12, 9e-13, 6e-13, 1.5e-12,
    5e-13, 3.5e-13, 2e-13, 1.3e-13, 9e-14, 2.5e-13, 3.2e-13, 1.5e-13, 3e-13, 1.6e-13,
    2.5e-13, 1.3e-13, 7e-14, 1e-13, 2e-13, 3e-14, 1e-13, 1.5e-14, 1.3e-13, 2e-13,
    7e-14, 8e-14, 1.5e-14, 1e-13, 4e-14, 2e-13, 1.7e-14, 7e-14, 8e-14],
  [2.5e-11, 2.7e-12, 7e-13, 2.5e-12, 4e-12, 1.5e-12, 1.8e-12, 3e-12, 5e-13, 6.5e-13,
    2.5e-13, 4e-13, 4.5e-13, 1.2e-13, 3.8e-13, 1.1e-13, 1.3e-13, 2.8e-13, 2e-14, 1.5e-14,
    2e-13, 4e-13, 8e-14, 1.7e-13, 4e-12, 2e-13, 5e-14, 1.4e-13, 8e-14, 2.5e-13,
    1.7e-13, 6e-14, 1e-13, 3e-13, 1.5e-13, 2.5e-14, 5e-13, 3e-13, 1.2e-13],
  [1.5e-11, 3.6e-12, 4e-14, 2.8e-12, 3.6e-12, 1.1e-12, 1e-9, 2.1e-13, 1.7e-14, 6.6e-13,
    3.1e-13, 3.5e-13, 4.3e-14, 1.2e-13, 1e-13, 1.6e-13, 2.9e-14, 1.5e-13, 1e-13, 1.2e-13,
    1.5e-13, 1.1e-9, 1.2e-13, 1.2e-13, 2.5e-13, 1.3e-13, 1.3e-13, 2e-13, 1.1e-13, 2e-13,
    3e-13, 1e-13, 1.1e-10, 1.5e-13, 2e-13, 2.5e-13, 1.8e-13, 2e-13, 2.5e-13],
  [2.7e-13, 2.9e-13, 1.5e-12, 1.6e-12, 1.8e-12, 4.6e-11, 3.2e-9, 2.5e-12, 2.6e-12, 2.6e-12,
    2.5e-12, 2.6e-12, 2.7e-12, 2.6e-12, 2.6e-12, 2.5e-12, 2.6e-12, 2.7e-12, 2.6e-12, 2.6e-12,
    2.5e-12, 2.6e-12, 2.6e-12, 2.7e-12, 2.6e-12, 2.6e-12, 2.7e-12, 2.6e-12, 2.6e-12, 2.7e-12,
    2.7e-12, 2.7e-12, 2.8e-12, 2.8e-12, 2.7e-12, 2.8e-12, 2.7e-12, 2.8e-12, 2.7e-12],
  [6.3e-13, 1.07e-11, 1.26e-11, 1.3e-11, 1.3e-11, 1.3e-11, 1.3e-11, 1.3e-11, 1.3e-11, 1.3e-11,
    1.3e-11, 1.3e-11, 1.3e-11, 1.3e-11, 1.3e-11, 1.3e-11, 1.3e-11, 1.3e-11, 1.3e-11, 1.3e-11,
    1.3e-11, 1.3e-11, 1.3e-11, 1.3e-11, 1.3e-11, 1.3e-11, 1.3e-11, 1.3e-11, 1.3e-11, 1.3e-11,
    1.3e-11, 1.3e-11, 1.3e-11, 1.3e-11, 1.3e-11, 1.3e-11, 1.3e-11, 1.3e-11, 1.3e-11],
  [1.6e-11, 5.5e-12, 4.6e-11, 5.2e-11, 5e-11, 5e-11, 5.2e-11, 5.2e-11, 5.2e-11, 5.2e-11,
    5.2e-11, 5.2e-11, 5.2e-11, 5.2e-11, 5.2e-11, 5.2e-11, 5.2e-11, 3e-8, 5.2e-11, 5.2e-11,
    5.2e-11, 5.2e-11, 5.2e-11, 5.2e-11, 5.2e-11, 5.2e-11, 5.2e-11, 5.2e-11, 5.2e-11, 5.2e-11,
    5.2e-11, 5.2e-11, 5.2e-11, 5.2e-11, 5.2e-11, 5.2e-11, 5.2e-11, 5.2e-11, 5.2e-11],
  [1.7e-10, 2.8e-10, 2.6e-10, 2.6e-10, 2.6e-10, null, 2.7e-10, 2.7e-10, 2.7e-10, 2.7e-10,
    2.7e-10, 2.7e-10, 2.7e-10, 2.7e-10, 2.7e-10, 2.7e-10, 2.7e-10, 2.7e-10, 2.7e-10, 2.7e-10,
    2.7e-10, 2.7e-10, 2.7e-10, 2.7e-10, 2.7e-10, 2.7e-10, 2.7e-10, 2.7e-10, 2.7e-10, 2.7e-10,
    2.7e-10, 2.7e-10, 2.7e-10, 2.7e-10, 2.7e-10, 2.7e-10, 2.7e-10, 2.7e-10, 2.7e-10],
];

const stressFermi: V[][] = [
  [1e-10, 1.1e-12, 9.3e-13, 4.4e-12, 1.3e-11, 2.3e-12, 3.2e-12, 4e-12, 1.7e-12, 2.3e-12,
    1.7e-12, 8e-13, 1.3e-12, 2e-12, 1.1e-12, 1.1e-12, 2e-12, 1.7e-12, 2e-12, 1.1e-12,
    2.7e-13, 3.5e-13, 4.4e-12, 4.4e-12, 2.3e-12, 1.1e-12, 1.1e-12, 2.5e-13, 5e-13, 6.5e-13,
    2e-12, 3e-13, 1.5e-13, 6.2e-14, 3.5e-13, 2.3e-14, 1.7e-12, 1e-13, 4e-13],
  [1e-11, 4.5e-12, 4.2e-12, 2.6e-12, 6.5e-12, 1.8e-12, 2.5e-12, 1.9e-13, 1.5e-12, 4.4e-12,
    2e-12, 1.6e-12, 4.7e-13, 1.8e-12, 2.6e-9, 1.3e-12, 1.1e-12, 1e-12, 8e-13, 1.2e-12,
    1e-12, 8e-13, 6.6e-14, 6e-13, 1.8e-13, 4e-13, 4.7e-13, 7e-13, 3e-13, 3e-13,
    8e-13, 6e-13, 3e-13, 5e-13, 3e-13, 2e-13, 4e-13, 3e-13, 4e-13],
  [2.9e-11, 3.5e-12, 1.7e-12, 2e-12, 1e-12, 1.5e-12, 1.4e-12, 3.6e-13, 1e-12, 1.6e-12,
    1.2e-12, 9e-13, 1.1e-12, 9.5e-14, 1e-13, 1.8e-13, 7e-14, 1.6e-13, 8e-14, 6e-14,
    1.8e-13, 1e-13, 1.6e-13, 6e-14, 1.2e-13, 1.8e-13, 1e-13, 6e-14, 1.4e-13, 2e-13,
    1.2e-13, 1.1e-13, 1.6e-13, 1.1e-13, 7e-14, 1.2e-13, 9e-14, 1.4e-13, 1.1e-13],
  [1.2e-11, 3e-12, 1.8e-12, 2.2e-12, 4e-12, 9e-13, 1.5e-12, 7e-13, 5.4e-14, 4.6e-13,
    4.6e-13, 1.4e-13, 3.6e-13, 2.8e-13, 2e-13, 6e-14, 1.3e-13, 1.9e-14, 8e-14, 1.4e-13,
    1e-13, 2.2e-13, 6e-14, 2.5e-13, 1.2e-13, 8e-14, 4e-14, 3e-14, 1.8e-13, 6e-14,
    4e-14, 2e-13, 5e-14, 1.5e-13, 6e-14, 3e-14, 1e-14, 3.5e-15, 8e-14],
  [5.2e-12, 2.5e-12, 1.6e-12, 2e-12, 1.3e-12, 1.8e-12, 6.3e-14, 1.5e-12, 4.7e-13, 2.4e-12,
    1.3e-12, 1.2e-12, 9e-13, 1.1e-12, 1e-12, 8e-13, 1e-12, 9e-13, 1.2e-12, 7e-13,
    1e-12, 6e-13, 8e-13, 1.2e-12, 9e-13, 1e-12, 8e-13, 1.1e-12, 9e-13, 1e-12,
    8e-13, 1e-12, 9e-13, 1e-12, 8e-13, 1e-12, 9e-13, 1e-12, 9e-13],
  [4.5e-13, 5e-13, 1.5e-12, 2e-12, 1.5e-12, 1.2e-12, 2.5e-12, 2e-12, 2.1e-12, 2.5e-12,
    2e-12, 2.2e-12, 2.5e-12, 2.6e-12, 2.4e-12, 2.5e-12, 2.6e-12, 2.5e-12, 2.6e-12, 2.4e-12,
    2.5e-12, 2.5e-12, 2.6e-12, 2.5e-12, 2.5e-12, 2.4e-12, 2.5e-12, 2.5e-12, 2.6e-12, 2.5e-12,
    2.5e-12, 4.7e-11, 2.5e-12, 2.5e-12, 2.5e-12, 2.5e-12, 2.5e-12, 2.5e-12, 2.5e-12],
  [null, 4.2e-11, 4.2e-11, 4.6e-11, 4.2e-11, 4.2e-11, 4.2e-11, 4.2e-11, 4.2e-11, 4.2e-11,
    4.2e-11, 4.2e-11, 4.2e-11, 2.1e-9, 4.2e-11, 4.2e-11, 4.2e-11, 4.2e-11, 4.2e-11, 4.2e-11,
    4.2e-11, 4.2e-11, 4.2e-11, 4.2e-11, 4.2e-11, 4.2e-11, 4.2e-11, 4.2e-11, 4.2e-11, 4.2e-11,
    4.2e-11, 4.2e-11, 4.2e-11, 4.2e-11, 4.2e-11, 4.2e-11, 4.2e-11, 4.2e-11, 4.2e-11],
  [8e-10, 1.1e-9, 1.1e-9, 1.1e-9, 1.1e-9, 1.1e-9, 1.1e-9, 1.1e-9, 1.1e-9, 1.1e-9,
    1.1e-9, 1.1e-9, 1.1e-9, 1.1e-9, 1.1e-9, 1.1e-9, 1.1e-9, 1.1e-9, 1.1e-9, 1.1e-9,
    1.1e-9, 1.1e-9, 1.1e-9, 1.1e-9, 1.1e-9, 1.1e-9, 3.7e-10, 1.1e-9, 1.1e-9, 1.1e-9,
    1.1e-9, 1.1e-9, 1.1e-9, 1.1e-9, 1.1e-9, 1.1e-9, 1.1e-9, 1.1e-9, 1.1e-9],
  [5.8e-9, 6.2e-9, 6.2e-9, 6.2e-9, 6.2e-9, 6.2e-9, 6.2e-9, 6.2e-9, 6.2e-9, 6.2e-9,
    6.2e-9, 6.2e-9, 6.2e-9, 6.2e-9, 6.2e-9, 6.2e-9, 6.2e-9, 6.2e-9, 6.2e-9, 6.2e-9,
    6.2e-9, 6.2e-9, 6.2e-9, 6.2e-9, 6.2e-9, 6.2e-9, 6.2e-9, 6.2e-9, 6.2e-9, 6.2e-9,
    6.2e-9, 6.2e-9, 6.2e-9, 6.2e-9, 6.2e-9, 6.2e-9, 6.2e-9, 6.2e-9, 6.2e-9],
  [1.9e-8, 2.1e-8, 2.1e-8, 2.1e-8, 2.1e-8, 2.1e-8, 2.1e-8, 2.1e-8, 2.1e-8, 2.1e-8,
    2.1e-8, 2.1e-8, 2.1e-8, 2.1e-8, 2.1e-8, 2.1e-8, 2.1e-8, 2.1e-8, 2.1e-8, 2.1e-8,
    2.1e-8, 2.1e-8, 2.1e-8, 2.1e-8, 2.1e-8, 2.1e-8, 2.1e-8, 2.1e-8, 2.1e-8, 2.1e-8,
    2.1e-8, 2.1e-8, 2.1e-8, 4e-8, 2.1e-8, 2.1e-8, 2.1e-8, 2.1e-8, 2.1e-8],
];

const stressMarzari: V[][] = [
  [1e-10, 1.1e-12, 9.3e-13, 4.4e-12, 1.3e-11, 2.3e-12, 3.2e-12, 4e-12, 1.7e-12, 2.3e-12,
    1.7e-12, 8e-13, 1.3e-12, 2e-12, 1.1e-12, 1.1e-12, 2e-12, 1.7e-12, 2e-12, 1.1e-12,
    2.7e-13, 3.5e-13, 4.4e-12, 4.4e-12, 2.3e-12, 1.1e-12, 1.1e-12, 2.5e-13, 2.5e-9, 6.5e-13,
    2e-12, 3e-13, 1.5e-13, 6.2e-14, 3.5e-13, 2.3e-14, 1.7e-12, 1e-13, 4e-13],
  [6e-11, 3e-12, 2.3e-12, 2.8e-12, 3.5e-12, 1.3e-12, 3e-12, 2e-9, 1.1e-12, 2e-12,
    2.5e-12, 1.4e-12, 8e-13, 1.5e-12, 1e-12, 1.2e-12, 7e-13, 1e-12, 6e-13, 4e-13,
    8e-13, 5e-14, 6e-13, 3e-13, 1e-12, 2e-13, 6e-13, 9e-13, 3e-13, 1e-12,
    6e-13, 8e-13, 4e-13, 1.2e-12, 3e-13, 7e-13, 1e-12, 6e-13, 1e-12],
  [4e-11, 3e-12, 1.6e-12, 3.2e-12, 9.5e-12, 1.6e-12, 3e-12, 4.3e-13, 1.4e-12, 2e-12,
    1.5e-12, 1e-12, 1.3e-12, 8e-13, 1.2e-12, 6e-13, 1e-12, 5e-13, 4e-13, 3e-13,
    5e-13, 2.4e-13, 4e-13, 3e-13, 6e-13, 2e-13, 4e-13, 3e-13, 2e-13, 4e-13,
    3e-13, 2e-13, 5e-13, 3e-13, 2e-13, 3e-13, 4e-13, 2e-13, 3e-13],
  [9e-11, 3e-12, 3.9e-12, 2.5e-12, 1.8e-12, 1.2e-12, 2.5e-12, 5e-13, 8e-13, 1.5e-12,
    1e-12, 6e-13, 7e-13, 1.6e-13, 3e-13, 8e-13, 5e-13, 3e-13, 4e-13, 6e-13,
    3e-13, 4e-13, 2e-13, 5.8e-15, 2e-13, 1.2e-13, 8e-14, 2e-13, 3e-13, 1.5e-13,
    3e-13, 2e-13, 3.3e-9, 2e-13, 8e-14, 3e-13, 1e-13, 2e-13, 3e-13],
  [6e-11, 6.4e-13, 3.2e-13, 2.5e-12, 1.8e-12, 1.3e-12, 3.5e-12, 1.05e-8, 1.1e-12, 1.7e-12,
    2.5e-12, 1e-12, 7e-13, 3.2e-13, 6e-13, 5e-13, 8e-13, 4e-13, 5e-14, 1e-12,
    1.1e-10, 5e-13, 7e-13, 4e-13, 6e-13, 8e-13, 5e-13, 7e-13, 4e-13, 6e-13,
    8e-13, 5e-13, 3e-13, 6e-13, 8e-13, 5e-13, 6e-13, 7e-13, 5e-13],
  [2e-11, 3.5e-12, 1.7e-12, 3.2e-12, 1e-12, 1.1e-12, 1.5e-12, 4.5e-13, 7e-13, 1.4e-12,
    9e-13, 1.2e-12, 6e-13, 5e-13, 1.9e-15, 6e-13, 2.5e-13, 1.6e-13, 4e-13, 3e-13,
    6e-13, 2e-13, 4e-13, 2.5e-14, 1e-13, 3e-13, 2e-13, 4e-13, 1.5e-13, 2.5e-13,
    3e-13, 1e-13, 2e-13, 1.5e-13, 3e-13, 1e-13, 2e-13, 6e-14, 1.5e-13],
  [3.4e-12, 9.5e-9, 2e-12, 3e-12, 9.5e-9, 5.6e-13, 8e-13, 1.2e-12, 9e-13, 1e-12,
    1.2e-12, 1e-12, 1.2e-12, 1.1e-12, 1.2e-12, 6.8e-9, 1.2e-12, 1.1e-12, 1.2e-12, 1.3e-12,
    1.2e-12, 1.1e-12, 1.3e-12, 1.2e-12, 1.2e-12, 1.3e-12, 1.2e-12, 1.1e-12, 1.3e-12, 1.2e-12,
    1.2e-12, 1.3e-12, 1.2e-12, 1.1e-12, 1.2e-12, 1.3e-12, 1.2e-12, 1.2e-12, 1.3e-12],
  [3.3e-12, 3.5e-12, 2.5e-12, 1.7e-12, 2.5e-12, 2.3e-12, 3e-12, 1.3e-12, 1.5e-12, 1.4e-12,
    1.3e-12, 1.2e-12, 1.3e-12, 1.4e-12, 1.2e-12, 1.5e-12, 1.3e-12, 1.4e-12, 1.2e-12, 1.3e-12,
    1.5e-12, 1.4e-12, 1.2e-12, 1.3e-12, 1.4e-12, 1.3e-12, 1.5e-12, 1.3e-12, 1.4e-12, 1.5e-12,
    1.2e-12, 1.4e-12, 1.3e-12, 1.5e-12, 1.4e-12, 1.2e-12, 1.5e-12, 1.3e-12, 1.4e-12],
  [1.6e-11, 3.7e-12, 3.7e-12, 3.7e-12, 3.7e-12, 3.7e-12, 3.7e-12, 3.7e-12, 3.7e-12, 7.2e-11,
    1.2e-9, 3.7e-12, 3.7e-12, 3.7e-12, 3.7e-12, 3.7e-12, 3.7e-12, 3.7e-12, 3.7e-12, 3.7e-12,
    3.7e-12, 3.7e-12, 3.7e-12, 3.7e-12, 3.7e-12, 3.7e-12, 3.7e-12, 3.7e-12, 3.7e-12, 3.7e-12,
    3.7e-12, 3.7e-12, 3.7e-12, 3.7e-12, 3.7e-12, 3.7e-12, 3.7e-12, 3.7e-12, 3.7e-12],
  [5e-12, 3e-12, 2e-12, 4e-14, 6.5e-13, 4.9e-13, 5e-13, 8e-13, 3.2e-13, 7e-13,
    9e-13, 1e-12, 8e-13, 1e-12, 9e-13, 1e-12, 8e-13, 9e-13, 1e-12, 8e-13,
    9e-13, 1e-12, 9e-13, 8e-13, 1e-12, 9e-13, 1e-12, 8e-13, 9e-13, 8.3e-9,
    9e-13, 1e-12, 9e-13, 1e-12, 8e-13, 1e-12, 9e-13, 1e-12, 9e-13],
];

const stressMethfessel: V[][] = [
  [1e-10, 1.1e-12, 9.3e-13, 1.1e-8, 1.3e-11, 2.3e-12, 3.2e-12, 4e-12, 1.7e-12, 2.3e-12,
    1.7e-12, 8e-13, 1.3e-12, 2e-12, 1.1e-12, 1.1e-12, 2e-12, 1.7e-12, 2e-12, 1.1e-12,
    2.7e-13, 3.5e-13, 4.4e-12, 4.4e-12, 2.3e-12, 1.1e-12, 2.1e-11, 2.5e-13, 5e-13, 6.5e-13,
    2e-12, 3e-13, 1.5e-13, 6.2e-14, 3.5e-13, 2.3e-14, 1.7e-12, 1e-13, 4e-13],
  [5e-11, 4.3e-12, 3e-12, 4.7e-12, 1.7e-11, 2e-12, 4e-12, 1.4e-12, 1.5e-12, 2.5e-12,
    3e-12, 1.4e-12, 1e-12, 1.2e-12, 7e-13, 1e-12, 1e-12, 8e-13, 1.2e-12, 5e-13,
    3e-13, 6e-13, 1.1e-13, 6.4e-14, 3e-13, 5e-13, 4.4e-13, 8e-13, 9e-13, 1.1e-12,
    6e-13, 3e-13, 4e-13, 5e-13, 6e-13, 3e-13, 5e-13, 3e-13, 4e-13],
  [6e-11, 3.5e-12, 2e-12, 4e-12, 2.2e-11, 1.5e-12, 3e-12, 7.4e-14, 1.5e-12, 2.5e-12,
    2e-12, 1.5e-12, 1e-12, 5.4e-13, 8e-13, 1e-12, 6e-13, 5e-13, 3e-13, 1.5e-13,
    2e-13, 4e-13, 3e-13, 2e-13, 2.5e-13, 3e-13, 4e-13, 2.5e-13, 3e-13, 2e-13,
    3e-13, 2.5e-13, 1.2e-14, 3e-13, 2.5e-13, 2e-13, 6e-14, 3e-13, 2e-13],
  [5.6e-11, 4e-12, 4e-12, 4.2e-12, 2.7e-12, 1.3e-12, 2e-12, 4.3e-13, 1.2e-12, 2e-12,
    1.5e-12, 1e-12, 8e-13, 2.5e-13, 4e-13, 3e-13, 1e-12, 4e-13, 5e-13, 7e-13,
    9.3e-10, 5e-13, 3e-13, 1.3e-14, 6e-13, 5.6e-14, 4e-13, 6e-13, 3e-13, 4e-13,
    3e-13, 5e-13, 4e-13, 2e-13, 3e-13, 6e-13, 1.3e-14, 2e-13, 3e-13],
  [4.2e-11, 4e-12, 1.3e-13, 4e-12, 1.8e-13, 7e-13, 2e-12, 8.7e-13, 1e-12, 2e-12,
    1.5e-12, 8e-13, 6e-13, 9e-13, 1.8e-13, 5e-13, 7e-13, 1.4e-13, 3e-13, 5e-13,
    2.5e-13, 4e-13, 3e-13, 6e-13, 3e-13, 5e-13, 6e-13, 4e-13, 2e-13, 3e-13,
    1.2e-13, 3e-13, 4e-13, 2.5e-13, 3e-13, 2e-13, 4e-13, 3e-13, 1.9e-14],
  [2.8e-11, 2.1e-12, 2.1e-12, 2.5e-12, 1.3e-12, 8.2e-13, 1e-12, 9e-13, 7.5e-13, 2e-12,
    1.5e-12, 6.8e-13, 5e-13, 5e-14, 5.5e-14, 2.3e-14, 2e-13, 1.5e-13, 1.5e-13, 1.3e-13,
    3e-13, 1.5e-13, 1e-13, 5e-14, 5.5e-15, 1e-13, 1.2e-13, 1.5e-13, 7e-14, 1.5e-13,
    1.2e-13, 6e-14, 5e-14, 1e-13, 1.2e-13, 8e-14, 1.5e-13, 6e-14, 1.2e-13],
  [1e-11, 4.3e-12, 4e-12, 1.4e-12, 4.3e-12, 4e-12, 4e-12, 1.8e-12, 3e-12, 3e-12,
    2.5e-12, 2.3e-12, 2.2e-12, 2.1e-12, 2.1e-12, 2.2e-12, 2.1e-12, 2.2e-12, 2.1e-12, 2.2e-12,
    2.1e-12, 2.2e-12, 2.1e-12, 2.1e-12, 2.2e-12, 2.1e-12, 2.2e-12, 2.1e-12, 2.1e-12, 2.2e-12,
    2.1e-12, 2.2e-12, 2.1e-12, 2.2e-12, 2.1e-12, 1.15e-8, 2.1e-12, 2.2e-12, 2.1e-12],
  [3.5e-12, 4e-12, 3.8e-12, 1.2e-12, 2.2e-13, 3e-13, 1.6e-13, 1.8e-13, 1.2e-13, 7.4e-14,
    2.3e-13, 1.3e-13, 1.7e-13, 1.8e-13, 1.8e-13, 1.7e-13, 1.8e-13, 1.8e-13, 1.7e-13, 1.8e-13,
    1.8e-13, 1.7e-13, 1.8e-13, 1.8e-13, 1.7e-13, 1.8e-13, 1.8e-13, 1.7e-13, 1.8e-13, 1.8e-13,
    1.7e-13, 1.8e-13, 1.8e-13, 1.7e-13, 1.8e-13, 1.8e-13, 1.7e-13, 1.8e-13, 1.8e-13],
  [3.8e-12, 4.1e-12, 4.1e-12, 4.1e-12, 4.1e-12, 4.1e-12, 4.1e-12, 1.2e-9, 4.1e-12, 4.1e-12,
    4.1e-12, 4.1e-12, 4.1e-12, 4.1e-12, 4.1e-12, 4.1e-12, 4.1e-12, 4.1e-12, 4.1e-12, 4.1e-12,
    4.1e-12, 4.1e-12, 4.1e-12, 4.1e-12, 4.1e-12, 4.1e-12, 4.1e-12, 4.1e-12, 4.1e-12, 4.1e-12,
    4.1e-12, 4.1e-12, 4.1e-12, 4.1e-12, 4.1e-12, 4.1e-12, 4.1e-12, 4.1e-12, 4.1e-12],
  [2.8e-12, 4.6e-12, 4.6e-12, 4.6e-12, 4.6e-12, 4.6e-12, 4.6e-12, 4.6e-12, 4.6e-12, 4.6e-12,
    4.6e-12, 4.6e-12, 4.6e-12, 4.6e-12, 4.6e-12, 4.6e-12, 4.6e-12, 4.6e-12, 4.6e-12, 4.6e-12,
    4.6e-12, 4.6e-12, 4.6e-12, 4.6e-12, 4.6e-12, 4.6e-12, 4.6e-12, 4.6e-12, 4.6e-12, 4.6e-12,
    4.6e-12, 4.6e-12, 4.6e-12, 4.6e-12, 4.6e-12, 4.6e-12, 4.6e-12, 4.6e-12, 4.6e-12],
];

// ---------------- styling ----------------
const seriesColors = ["#17a4c6", "#fbb016", "#7361f4", "#5bab38", "#ef7130",
  "#5a97f4", "#d6b51d", "#9d70ef", "#2ab4a1", "#f8a03d"];
const seriesShape = ["circle", "square", "diamond", "up", "down", "circle", "square", "diamond", "up", "down"];
const seriesSize = [5.8, 3.2, 4.7, 4.7, 4.7, 4.9, 3.6, 4.0, 5.3, 5.3];

const colX = [[69, 402], [434, 782], [837, 1163]];
const colXDom = [[0.92, 4.465], [0.94, 4.458], [0.946, 4.44]];

type Cfg = { row: number; col: number; data: V[][]; y0: number; y1: number; lo: number; hi: number; log: boolean };

const panels: Cfg[] = [
  { row: 0, col: 0, data: energyGaussian, y0: 58, y1: 264, lo: -7.2, hi: -1.07, log: true },
  { row: 0, col: 1, data: scfGaussian, y0: 53, y1: 268, lo: 18.55, hi: 27.45, log: false },
  { row: 0, col: 2, data: stressGaussian, y0: 60, y1: 263, lo: -14.0, hi: -7.16, log: true },
  { row: 1, col: 0, data: energyFermi, y0: 297, y1: 504, lo: -6.14, hi: -0.27, log: true },
  { row: 1, col: 1, data: scfFermi, y0: 293, y1: 507, lo: 18.6, hi: 27.45, log: false },
  { row: 1, col: 2, data: stressFermi, y0: 301, y1: 501, lo: -14.52, hi: -7.05, log: true },
  { row: 2, col: 0, data: energyMarzari, y0: 538, y1: 744, lo: -7.03, hi: -1.82, log: true },
  { row: 2, col: 1, data: scfMarzari, y0: 533, y1: 749, lo: 20.55, hi: 29.47, log: false },
  { row: 2, col: 2, data: stressMarzari, y0: 541, y1: 741, lo: -14.81, hi: -7.57, log: true },
  { row: 3, col: 0, data: energyMethfessel, y0: 781, y1: 978, lo: -7.02, hi: -1.94, log: true },
  { row: 3, col: 1, data: scfMethfessel, y0: 773, y1: 989, lo: 19.55, hi: 28.5, log: false },
  { row: 3, col: 2, data: stressMethfessel, y0: 781, y1: 982, lo: -14.37, hi: -7.6, log: true },
];

function shapePath(shape: string, s: number): string {
  switch (shape) {
    case "circle":
      return `M${s},0A${s},${s} 0 1,1 ${-s},0A${s},${s} 0 1,1 ${s},0Z`;
    case "square":
      return `M${-s},${-s}H${s}V${s}H${-s}Z`;
    case "diamond":
      return `M0,${-s * 1.08}L${s},0L0,${s * 1.08}L${-s},0Z`;
    case "up":
      return `M0,${-s}L${s * 0.87},${s * 0.55}L${-s * 0.87},${s * 0.55}Z`;
    default:
      return `M0,${s}L${s * 0.87},${-s * 0.55}L${-s * 0.87},${-s * 0.55}Z`;
  }
}

const tickFont = "'Liberation Sans', Arial, sans-serif";
const monoFont = "'DejaVu Sans Mono', monospace";

function expLabel(k: number) {
  return k < 0 ? `−${-k}` : `${k}`;
}

function Panel({ cfg }: { cfg: Cfg }) {
  const [x0, x1] = colX[cfg.col];
  const [xl, xh] = colXDom[cfg.col];
  const x = d3.scaleLog().domain([10 ** xl, 10 ** xh]).range([x0, x1]);
  const y: (v: number) => number = cfg.log
    ? d3.scaleLog().domain([10 ** cfg.lo, 10 ** cfg.hi]).range([cfg.y1, cfg.y0])
    : d3.scaleLinear().domain([cfg.lo, cfg.hi]).range([cfg.y1, cfg.y0]);
  const clipId = `clip-${cfg.row}-${cfg.col}`;

  const xMajor: number[] = [];
  const xMinor: number[] = [];
  for (let k = 0; k <= 4; k++) {
    if (k >= xl && k <= xh) xMajor.push(k);
    for (let m = 2; m <= 9; m++) {
      const v = Math.log10(m) + k;
      if (v > xl && v < xh) xMinor.push(m * 10 ** k);
    }
  }

  const yMajor: number[] = [];
  const yMinor: number[] = [];
  if (cfg.log) {
    for (let k = Math.floor(cfg.lo); k <= Math.ceil(cfg.hi); k++) {
      if (k >= cfg.lo && k <= cfg.hi) yMajor.push(k);
      for (let m = 2; m <= 9; m++) {
        const v = Math.log10(m) + k;
        if (v > cfg.lo && v < cfg.hi) yMinor.push(m * 10 ** k);
      }
    }
  } else {
    for (let v = Math.ceil(cfg.lo * 2) / 2; v <= cfg.hi; v += 0.5) {
      if (v % 2 === 0) yMajor.push(v);
      else yMinor.push(v);
    }
  }

  return (
    <g>
      <defs>
        <clipPath id={clipId}>
          <rect x={x0} y={cfg.y0} width={x1 - x0} height={cfg.y1 - cfg.y0} />
        </clipPath>
      </defs>
      <rect x={x0} y={cfg.y0} width={x1 - x0} height={cfg.y1 - cfg.y0} fill="#fff" />
      <g clipPath={`url(#${clipId})`}>
        {cfg.data.map((series, si) =>
          series.slice(0, kPoints.length).map((v, i) => {
            if (v === null || v === undefined) return null;
            const filled = si < 5;
            return (
              <path
                key={`${si}-${i}`}
                d={shapePath(seriesShape[si], seriesSize[si])}
                transform={`translate(${x(kPoints[i]).toFixed(2)},${y(v).toFixed(2)})`}
                fill={filled ? seriesColors[si] : "none"}
                stroke={seriesColors[si]}
                strokeWidth={filled ? 0.4 : 1}
              />
            );
          })
        )}
      </g>
      <rect x={x0} y={cfg.y0} width={x1 - x0} height={cfg.y1 - cfg.y0} fill="none" stroke="#444" strokeWidth={1} />
      {xMajor.map((k) => {
        const px = x(10 ** k);
        return (
          <g key={`xm${k}`}>
            <line x1={px} x2={px} y1={cfg.y1} y2={cfg.y1 - 5} stroke="#444" />
            <text x={px} y={cfg.y1 + 17} textAnchor="middle" fontFamily={tickFont} fontSize={16} fill="#111">
              10<tspan dy={-6} fontSize={11}>{expLabel(k)}</tspan>
            </text>
          </g>
        );
      })}
      {xMinor.map((v, i) => (
        <line key={`xn${i}`} x1={x(v)} x2={x(v)} y1={cfg.y1} y2={cfg.y1 - 2.5} stroke="#444" />
      ))}
      {yMajor.map((k) => {
        const py = cfg.log ? y(10 ** k) : y(k);
        return (
          <g key={`ym${k}`}>
            <line x1={x0} x2={x0 + 5} y1={py} y2={py} stroke="#444" />
            {cfg.log ? (
              <text x={x0 - 1} y={py + 5.5} textAnchor="end" fontFamily={tickFont} fontSize={16} fill="#111">
                10<tspan dy={-6} fontSize={11}>{expLabel(k)}</tspan>
              </text>
            ) : (
              <text x={x0 - 2} y={py + 6} textAnchor="end" fontFamily={tickFont} fontSize={18} fill="#111">
                {k}
              </text>
            )}
          </g>
        );
      })}
      {yMinor.map((v, i) => (
        <line key={`yn${i}`} x1={x0} x2={x0 + 2.5} y1={y(v)} y2={y(v)} stroke="#444" />
      ))}
    </g>
  );
}

const rowLabelY = [168, 411, 651, 892];

export default function App() {
  return (
    <svg
      width={1168}
      height={1051}
      viewBox="0 0 1168 1051"
      style={{ position: "absolute", left: 0, top: 0, background: "#fff" }}
    >
      <rect width={1168} height={1051} fill="#fff" />
      <text x={587} y={21} textAnchor="middle" fontFamily={monoFont} fontSize={21} fill="#111">TiCo</text>

      <text x={222} y={47} textAnchor="middle" fontFamily={monoFont} fontSize={14} fill="#111">
        Total energy <tspan fill="#555">(Ry)</tspan>
      </text>
      <text x={598} y={47} textAnchor="middle" fontFamily={monoFont} fontSize={14} fill="#111">
        Number of SCF iterations
      </text>
      <text x={984} y={47} textAnchor="middle" fontFamily={monoFont} fontSize={14} fill="#111">
        Stress <tspan fill="#555">(</tspan>Ry/r<tspan dy={4} fontSize={9} fontFamily={tickFont} fontWeight="bold">Bohr</tspan>
        <tspan dy={-11} fontSize={9} fontFamily={tickFont}>3</tspan>
        <tspan dy={7} fill="#555">)</tspan>
      </text>

      <line x1={11} x2={1168} y1={52} y2={52} stroke="#000" strokeWidth={2} />
      <line x1={27} x2={27} y1={35} y2={1010} stroke="#000" strokeWidth={1.5} />

      {smearingNames.map((name, i) => (
        <text
          key={name}
          transform={`translate(23,${rowLabelY[i]}) rotate(-90)`}
          textAnchor="middle"
          fontFamily={monoFont}
          fontSize={14}
          fill="#111"
        >
          {name}
        </text>
      ))}

      {panels.map((p) => (
        <Panel key={`${p.row}-${p.col}`} cfg={p} />
      ))}

      {smearMantissa.map((m, i) => {
        const cx = 150 + 91.5 * i;
        const filled = i < 5;
        return (
          <g key={`lg${i}`}>
            <path
              d={shapePath(seriesShape[i], seriesSize[i])}
              transform={`translate(${cx},1035) scale(1.55,2.0)`}
              fill={filled ? seriesColors[i] : "none"}
              stroke={seriesColors[i]}
              strokeWidth={filled ? 0.4 : 1}
              vectorEffect="non-scaling-stroke"
            />
            <text x={cx + 14} y={1037} fontFamily={tickFont} fontSize={12} fill="#111">
              {m}×10<tspan dy={-5} fontSize={8.5}>{smearExponent[i]}</tspan>
            </text>
          </g>
        );
      })}
    </svg>
  );
}
